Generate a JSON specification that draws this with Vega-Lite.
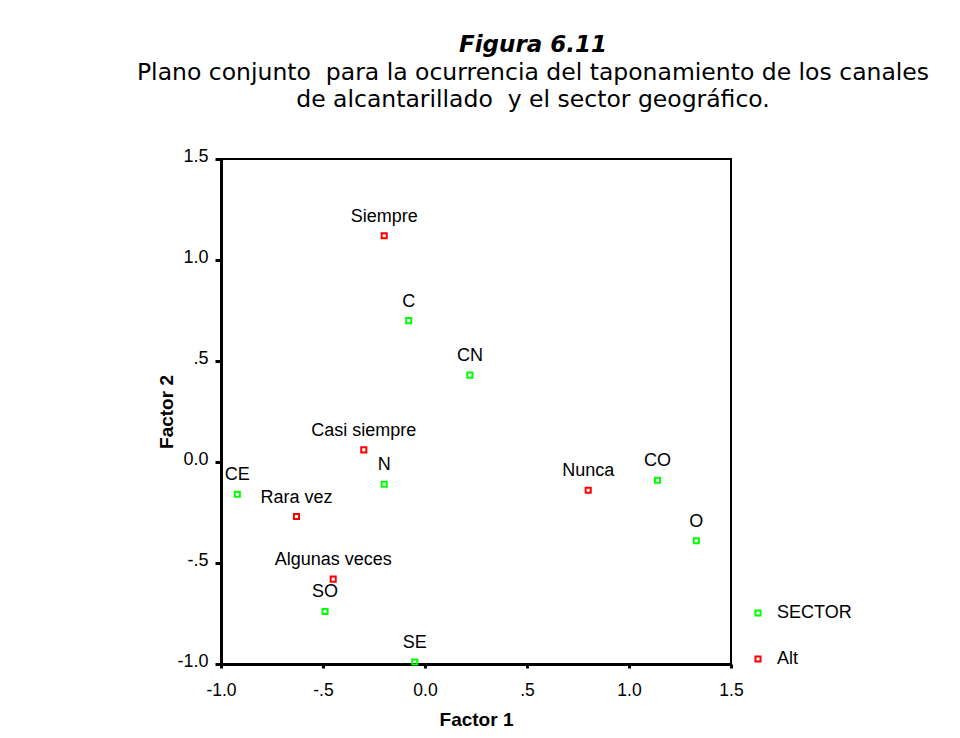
{
  "$schema": "https://vega.github.io/schema/vega-lite/v6.json",
  "width": 510,
  "height": 505,
  "autosize": {"type": "none"},
  "padding": {"left": 221, "top": 159, "right": 229, "bottom": 74},
  "background": "white",
  "title": {
    "text": "Figura 6.11",
    "subtitle": ["Plano conjunto\u00a0 para la ocurrencia del taponamiento de los canales", "de alcantarillado\u00a0 y el sector geográfico."],
    "font": "DejaVu Sans",
    "fontSize": 23,
    "fontStyle": "italic",
    "fontWeight": "bold",
    "color": "black",
    "subtitleFont": "DejaVu Sans",
    "subtitleFontSize": 23.5,
    "subtitleColor": "black",
    "subtitlePadding": 4,
    "subtitleLineHeight": 27,
    "anchor": "middle",
    "dx": 57,
    "offset": 36
  },
  "data": {
    "values": [
      {"etiqueta": "Siempre", "f1": -0.20, "f2": 1.12, "grupo": "Alt"},
      {"etiqueta": "Casi siempre", "f1": -0.30, "f2": 0.06, "grupo": "Alt"},
      {"etiqueta": "Rara vez", "f1": -0.63, "f2": -0.27, "grupo": "Alt"},
      {"etiqueta": "Algunas veces", "f1": -0.45, "f2": -0.58, "grupo": "Alt"},
      {"etiqueta": "Nunca", "f1": 0.80, "f2": -0.14, "grupo": "Alt"},
      {"etiqueta": "C", "f1": -0.08, "f2": 0.70, "grupo": "SECTOR"},
      {"etiqueta": "CN", "f1": 0.22, "f2": 0.43, "grupo": "SECTOR"},
      {"etiqueta": "N", "f1": -0.20, "f2": -0.11, "grupo": "SECTOR"},
      {"etiqueta": "CE", "f1": -0.92, "f2": -0.16, "grupo": "SECTOR"},
      {"etiqueta": "SO", "f1": -0.49, "f2": -0.74, "grupo": "SECTOR"},
      {"etiqueta": "SE", "f1": -0.05, "f2": -0.99, "grupo": "SECTOR"},
      {"etiqueta": "CO", "f1": 1.14, "f2": -0.09, "grupo": "SECTOR"},
      {"etiqueta": "O", "f1": 1.33, "f2": -0.39, "grupo": "SECTOR"}
    ]
  },
  "encoding": {
    "x": {
      "field": "f1", "type": "quantitative",
      "scale": {"domain": [-1, 1.5], "nice": false, "zero": false},
      "axis": {
        "title": "Factor 1",
        "values": [-1, -0.5, 0, 0.5, 1, 1.5],
        "labelExpr": "datum.value == 0 ? '0.0' : (abs(datum.value) < 1 ? (datum.value < 0 ? '-.5' : '.5') : (datum.value < 0 ? '-' : '') + format(abs(datum.value), '.1f'))",
        "grid": false,
        "domainColor": "black", "domainWidth": 3,
        "tickColor": "black", "tickWidth": 3, "tickSize": 4,
        "labelFont": "Liberation Sans", "labelFontSize": 17.5, "labelColor": "black", "labelPadding": 13, "labelFlush": false,
        "titleFont": "Liberation Sans", "titleFontSize": 19, "titleFontWeight": "bold", "titleColor": "black", "titlePadding": 12
      }
    },
    "y": {
      "field": "f2", "type": "quantitative",
      "scale": {"domain": [-1, 1.5], "nice": false, "zero": false},
      "axis": {
        "title": "Factor 2",
        "values": [-1, -0.5, 0, 0.5, 1, 1.5],
        "labelExpr": "datum.value == 0 ? '0.0' : (abs(datum.value) < 1 ? (datum.value < 0 ? '-.5' : '.5') : (datum.value < 0 ? '-' : '') + format(abs(datum.value), '.1f'))",
        "grid": false,
        "domainColor": "black", "domainWidth": 3,
        "tickColor": "black", "tickWidth": 3, "tickSize": 6,
        "labelFont": "Liberation Sans", "labelFontSize": 18, "labelColor": "black", "labelPadding": 7, "labelOffset": -3, "labelFlush": false,
        "titleFont": "Liberation Sans", "titleFontSize": 19, "titleFontWeight": "bold", "titleColor": "black", "titlePadding": 0
      }
    }
  },
  "layer": [
    {
      "mark": {"type": "point", "shape": "square", "filled": false, "size": 26, "strokeWidth": 2, "opacity": 1},
      "encoding": {
        "color": {
          "field": "grupo", "type": "nominal",
          "scale": {"domain": ["SECTOR", "Alt"], "range": ["#00ff00", "#ff0000"]},
          "legend": {
            "title": null,
            "orient": "none",
            "legendX": 528,
            "legendY": 445,
            "padding": 0,
            "symbolType": "square",
            "symbolFillColor": "white",
            "symbolSize": 26,
            "symbolStrokeWidth": 2,
            "labelFont": "Liberation Sans",
            "labelFontSize": 18,
            "labelColor": "black",
            "labelOffset": 10,
            "rowPadding": 28
          }
        }
      }
    },
    {
      "mark": {"type": "text", "baseline": "alphabetic", "dy": -14, "font": "Liberation Sans", "fontSize": 18, "color": "black"},
      "encoding": {"text": {"field": "etiqueta"}}
    }
  ],
  "config": {"view": {"stroke": "black", "strokeWidth": 2}}
}
